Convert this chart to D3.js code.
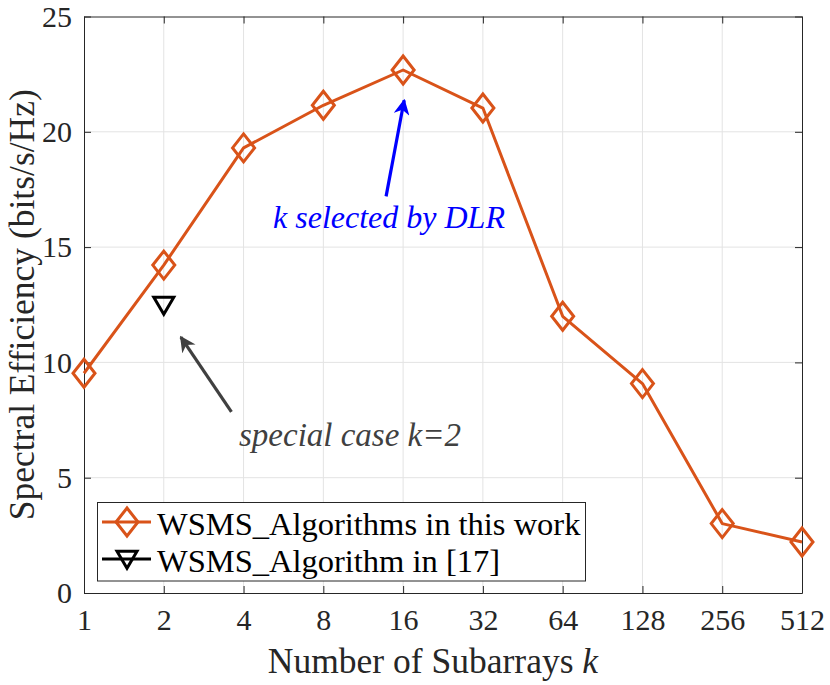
<!DOCTYPE html>
<html>
<head>
<meta charset="utf-8">
<script src="https://cdn.jsdelivr.net/npm/d3@7"></script>
</head>
<body style="margin:0">
<div id="chart"></div>
<script>
// Data
const subarrays = [1, 2, 4, 8, 16, 32, 64, 128, 256, 512]
const wsmsThisWork = [9.53, 14.22, 19.3, 21.15, 22.68, 21.03, 12.0, 9.08, 3.01, 2.21]
const wsmsRef17 = [{ k: 2, v: 12.44 }]
const yTicks = [0, 5, 10, 15, 20, 25]
const legendLabels = ['WSMS_Algorithms in this work', 'WSMS_Algorithm in [17]']
// annotation arrows in data coords: [tailK, tailV, tipK, tipV]
const dlrArrow = [13.8, 17.2, 16.15, 21.37]
const specialArrow = [3.6, 7.85, 2.32, 11.1]

const width = 830
const height = 685
const margin = { top: 16.5, right: 28, bottom: 92, left: 84 }
const innerWidth = width - margin.left - margin.right
const innerHeight = height - margin.top - margin.bottom

const FONT = '"Liberation Serif"'
const orange = '#D95319'
const axisColor = '#262626'

const svg = d3.select('#chart')
  .append('svg')
  .attr('width', width)
  .attr('height', height)

const defs = svg.append('defs')
function arrowHead(id, color) {
  defs.append('marker')
    .attr('id', id)
    .attr('viewBox', '0 0 10 10')
    .attr('refX', 9)
    .attr('refY', 5)
    .attr('markerWidth', 5)
    .attr('markerHeight', 5)
    .attr('markerUnits', 'strokeWidth')
    .attr('orient', 'auto')
    .append('path')
    .attr('d', 'M0,0 L10,5 L0,10 L3,5 z')
    .attr('fill', color)
}
arrowHead('head-blue', '#0000ff')
arrowHead('head-gray', '#404040')

const g = svg.append('g')
  .attr('transform', `translate(${margin.left}, ${margin.top})`)

const xScale = d3.scaleLog().base(2).domain([1, 512]).range([0, innerWidth])
const yScale = d3.scaleLinear().domain([0, 25]).range([innerHeight, 0])

// Gridlines
g.append('g')
  .selectAll('line')
  .data(subarrays.slice(1, -1))
  .join('line')
  .attr('x1', d => xScale(d)).attr('x2', d => xScale(d))
  .attr('y1', 0).attr('y2', innerHeight)
  .attr('stroke', '#e3e3e3').attr('stroke-width', 1)

g.append('g')
  .selectAll('line')
  .data(yTicks.slice(1, -1))
  .join('line')
  .attr('y1', d => yScale(d)).attr('y2', d => yScale(d))
  .attr('x1', 0).attr('x2', innerWidth)
  .attr('stroke', '#e3e3e3').attr('stroke-width', 1)

// Axes (MATLAB style: inward ticks, boxed)
const tickLen = 7
g.append('g')
  .attr('transform', `translate(0, ${innerHeight})`)
  .call(d3.axisBottom(xScale).tickValues(subarrays).tickFormat(d3.format('d'))
    .tickSizeInner(-tickLen).tickSizeOuter(0).tickPadding(16))
g.append('g')
  .call(d3.axisLeft(yScale).tickValues(yTicks)
    .tickSizeInner(-tickLen).tickSizeOuter(0).tickPadding(12))
g.append('g')
  .call(d3.axisTop(xScale).tickValues(subarrays).tickFormat('')
    .tickSizeInner(-tickLen).tickSizeOuter(0))
g.append('g')
  .attr('transform', `translate(${innerWidth}, 0)`)
  .call(d3.axisRight(yScale).tickValues(yTicks).tickFormat('')
    .tickSizeInner(-tickLen).tickSizeOuter(0))

g.selectAll('.domain').attr('stroke', axisColor).attr('stroke-width', 1)
g.selectAll('.tick line').attr('stroke', axisColor).attr('stroke-width', 1)
g.selectAll('.tick text').attr('fill', axisColor).attr('font-size', 30)

// Axis titles
const xTitle = svg.append('text')
  .attr('x', 433)
  .attr('y', 673)
  .attr('text-anchor', 'middle')
  .attr('fill', axisColor)
  .attr('font-size', 35.5)
xTitle.append('tspan').text('Number of Subarrays ')
xTitle.append('tspan').attr('font-style', 'italic').text('k')

svg.append('text')
  .attr('transform', `translate(34, ${margin.top + innerHeight / 2}) rotate(-90)`)
  .attr('text-anchor', 'middle')
  .attr('fill', axisColor)
  .attr('font-size', 35.5)
  .text('Spectral Efficiency (bits/s/Hz)')

// Series line
const line = d3.line()
  .x((d, i) => xScale(subarrays[i]))
  .y(d => yScale(d))

g.append('path')
  .datum(wsmsThisWork)
  .attr('fill', 'none')
  .attr('stroke', orange)
  .attr('stroke-width', 3)
  .attr('stroke-linejoin', 'round')
  .attr('d', line)

const diamond = (w, h) => `M0,${-h / 2} L${w / 2},0 L0,${h / 2} L${-w / 2},0 Z`
const triangleDown = (w, h) => `M${-w / 2},${-h * 0.4} L${w / 2},${-h * 0.4} L0,${h * 0.6} Z`

g.append('g')
  .selectAll('path')
  .data(wsmsThisWork)
  .join('path')
  .attr('transform', (d, i) => `translate(${xScale(subarrays[i])}, ${yScale(d)})`)
  .attr('d', diamond(22, 28))
  .attr('fill', 'none')
  .attr('stroke', orange)
  .attr('stroke-width', 3)

g.append('g')
  .selectAll('path')
  .data(wsmsRef17)
  .join('path')
  .attr('transform', d => `translate(${xScale(d.k)}, ${yScale(d.v) - 2})`)
  .attr('d', triangleDown(20, 17))
  .attr('fill', 'none')
  .attr('stroke', '#000')
  .attr('stroke-width', 3)

// Annotations
function drawArrow(a, color, id) {
  g.append('line')
    .attr('x1', xScale(a[0])).attr('y1', yScale(a[1]))
    .attr('x2', xScale(a[2])).attr('y2', yScale(a[3]))
    .attr('stroke', color)
    .attr('stroke-width', 3.2)
    .attr('marker-end', `url(#${id})`)
}
drawArrow(dlrArrow, '#0000ff', 'head-blue')
drawArrow(specialArrow, '#404040', 'head-gray')

svg.append('text')
  .attr('x', 389)
  .attr('y', 228)
  .attr('text-anchor', 'middle')
  .attr('fill', '#0000ff')
  .attr('font-size', 32)
  .attr('font-style', 'italic')
  .text('k selected by DLR')

svg.append('text')
  .attr('x', 239)
  .attr('y', 446)
  .attr('fill', '#404040')
  .attr('font-size', 33)
  .attr('font-style', 'italic')
  .text('special case k=2')

// Legend
const legend = svg.append('g')
legend.append('rect')
  .attr('x', 97.5).attr('y', 502.5)
  .attr('width', 488).attr('height', 78.5)
  .attr('fill', '#fff')
  .attr('stroke', axisColor)
  .attr('stroke-width', 1)

const legendRows = legend.selectAll('g.row')
  .data(legendLabels)
  .join('g')
  .attr('class', 'row')
  .attr('transform', (d, i) => `translate(0, ${522 + i * 37})`)

legendRows.append('line')
  .attr('x1', 102).attr('x2', 151)
  .attr('y1', 0).attr('y2', 0)
  .attr('stroke', (d, i) => i === 0 ? orange : '#000')
  .attr('stroke-width', 3)

legendRows.append('path')
  .attr('transform', (d, i) => `translate(127, ${i === 0 ? 0 : -1})`)
  .attr('d', (d, i) => i === 0 ? diamond(22, 28) : triangleDown(20, 17))
  .attr('fill', 'none')
  .attr('stroke', (d, i) => i === 0 ? orange : '#000')
  .attr('stroke-width', 3)

legendRows.append('text')
  .attr('x', 157)
  .attr('y', 13)
  .attr('fill', '#000')
  .attr('font-size', 32.5)
  .text(d => d)

// Font on every text element directly
svg.selectAll('text, tspan').attr('font-family', FONT)
</script>
</body>
</html>
